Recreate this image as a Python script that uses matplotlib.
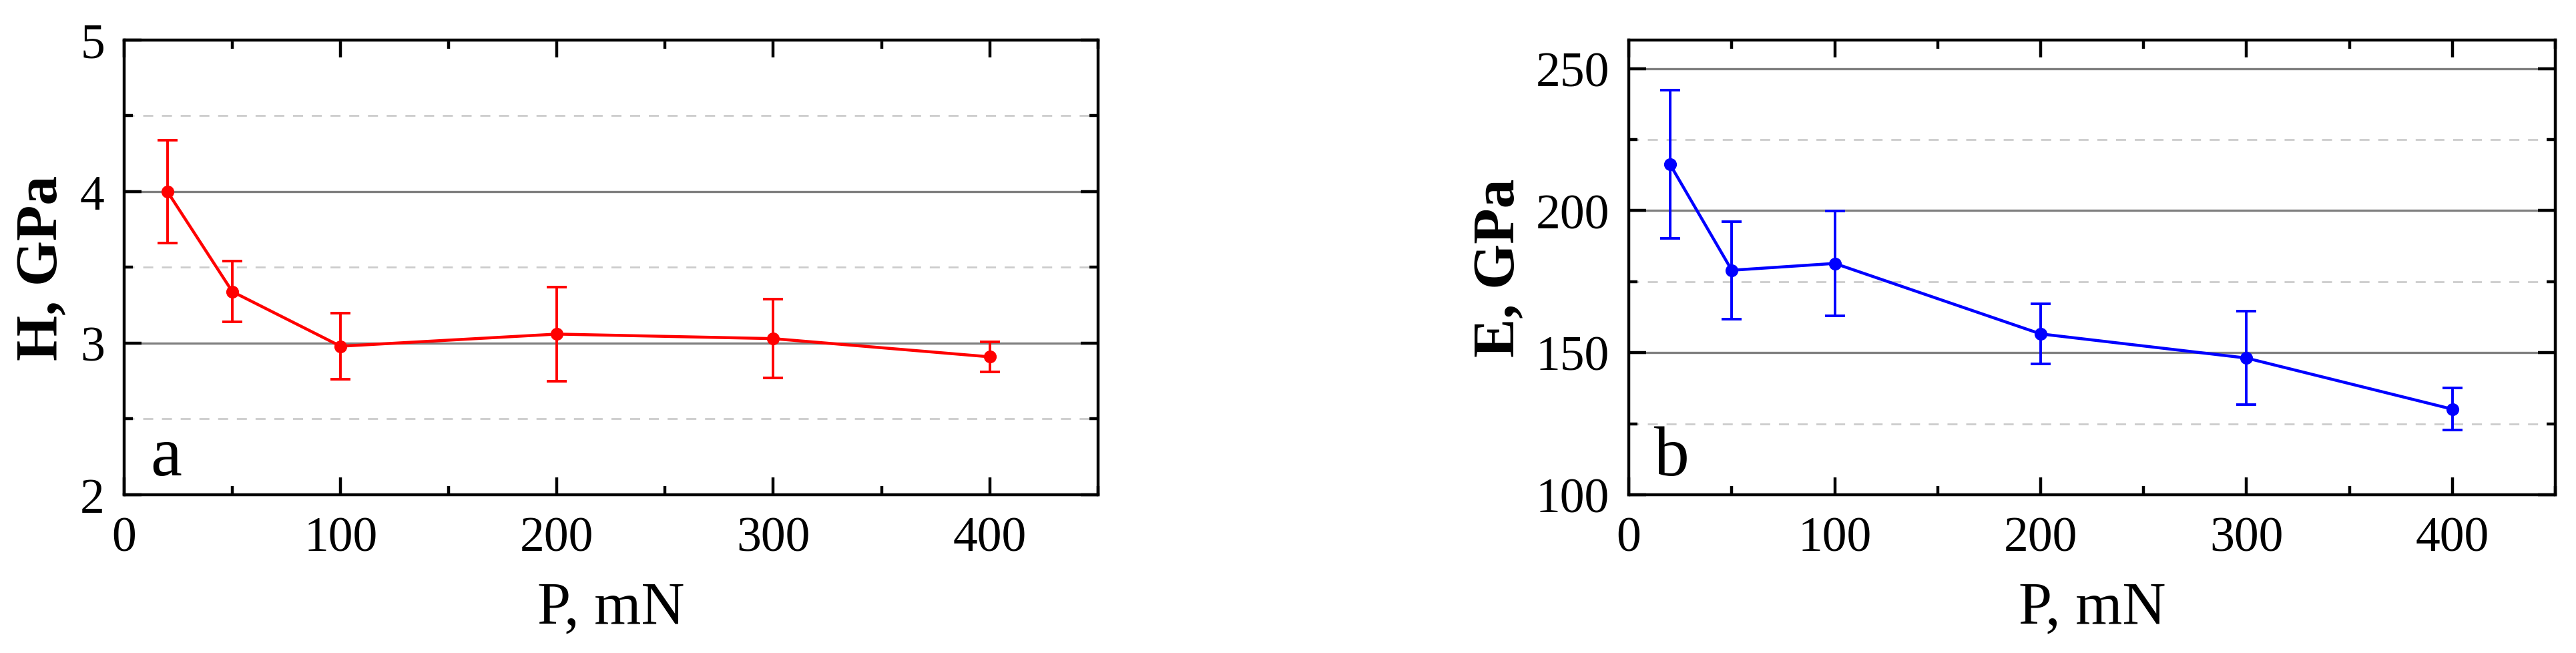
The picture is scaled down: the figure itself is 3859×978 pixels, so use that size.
import matplotlib
matplotlib.use('Agg')
import matplotlib.pyplot as plt
from matplotlib.ticker import MultipleLocator

# load values, mN
load = [20, 50, 100, 200, 300, 400]

# hardness H, GPa
hardness = [4.00, 3.34, 2.98, 3.06, 3.03, 2.91]
hardness_err = [0.34, 0.20, 0.22, 0.31, 0.26, 0.10]

# elastic modulus E, GPa
modulus = [216.3, 179.0, 181.4, 156.6, 148.1, 130.1]
modulus_err = [26.0, 17.2, 18.4, 10.5, 16.4, 7.4]

x_ticks = [0, 100, 200, 300, 400]

plt.rcParams['font.family'] = ['Liberation Serif', 'DejaVu Serif']

fig = plt.figure(figsize=(38.59, 9.79), dpi=100)
ax1 = fig.add_axes([0.0482, 0.2421, 0.378, 0.6956])
ax2 = fig.add_axes([0.6323, 0.2421, 0.3597, 0.6956])


def style_axes(ax, ylim, ymajor, yminor, ylabel, ylabel_x, letter):
    ax.set_xlim(0, 450)
    ax.set_ylim(*ylim)
    ax.set_xticks(x_ticks)
    ax.xaxis.set_minor_locator(MultipleLocator(50))
    ax.yaxis.set_major_locator(MultipleLocator(ymajor))
    ax.yaxis.set_minor_locator(MultipleLocator(yminor))

    # grid: solid at major, dashed at minor
    ax.set_axisbelow(True)
    ax.grid(which='major', axis='y', color='#808080', lw=2.4, ls='-')
    ax.grid(which='minor', axis='y', color='#cccccc', lw=2.0, ls=(0, (5.4, 4.7)))

    for s in ax.spines.values():
        s.set_linewidth(3.2)
    ax.tick_params(which='both', direction='in', top=True, right=True,
                   width=3.2, color='black')
    ax.tick_params(which='major', length=19, labelsize=53)
    ax.tick_params(which='minor', length=9.5)
    ax.tick_params(axis='x', which='major', pad=23)
    ax.tick_params(axis='y', which='major', pad=21)

    ax.set_xlabel('P, mN', fontsize=65)
    ax.xaxis.set_label_coords(0.5, -0.19)
    ax.set_ylabel(ylabel, fontsize=63, fontweight='bold')
    ax.yaxis.set_label_coords(ylabel_x, 0.5)

    ax.text(0.027, 0.044, letter, transform=ax.transAxes, fontsize=76,
            ha='left', va='baseline')


ax1.errorbar(load, hardness, yerr=hardness_err, color='#ff0000', lw=3.2,
             marker='o', ms=11, mew=2.8, elinewidth=2.8, capsize=11, capthick=2.8)
style_axes(ax1, (2, 5), 1, 0.5, 'H, GPa', -0.056, 'a')

ax2.errorbar(load, modulus, yerr=modulus_err, color='#0000ff', lw=3.2,
             marker='o', ms=11, mew=2.8, elinewidth=2.8, capsize=11, capthick=2.8)
style_axes(ax2, (100, 260), 50, 25, 'E, GPa', -0.110, 'b')

fig.savefig('out.png', dpi=100, facecolor='white')
